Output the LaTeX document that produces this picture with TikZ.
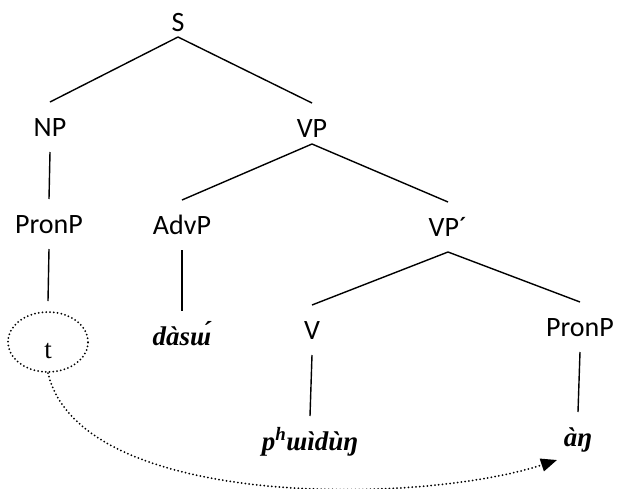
\documentclass[tikz,border=0pt]{standalone}
\usepackage{fontspec}
\setmainfont{Carlito}
\newfontfamily\wordfont{Liberation Serif}
\usetikzlibrary{arrows.meta,shapes.geometric}
\begin{document}
\begin{tikzpicture}[x=1pt,y=-1pt,
  lab/.style={font=\fontsize{28}{30}\selectfont, anchor=base, inner xsep=0pt, inner ysep=0pt,
              text height=18pt, text depth=0pt, outer ysep=16pt},
  word/.style={font=\wordfont\bfseries\itshape\fontsize{27}{30}\selectfont, anchor=base,
              inner xsep=0pt, inner ysep=0pt, text height=18pt, text depth=0pt, outer ysep=16pt},
  edge/.style={line width=1.4pt},
  dots/.style={line width=2pt, line cap=round, dash pattern=on 0pt off 3.8pt}]
\useasboundingbox (0,0) rectangle (619,488);
% labels
\node[lab] (S) at (178,31) {S};
\node[lab] (NP) at (50,136) {NP};
\node[lab] (VP) at (312,137) {VP};
\node[lab] (PronPa) at (49,233) {PronP};
\node[lab] (AdvP) at (182,234) {AdvP};
\node[lab] (VPp) at (448,236) {VP´};
\node[lab] (V) at (312,339) {V};
\node[lab] (PronPb) at (580,336) {PronP};
% words
\node[word] (dasu) at (182,345) {dàsɯ́};
\node[word] (phu) at (310,450) {p\textsuperscript{h}ɯìdùŋ};
\node[word] (ang) at (578,446) {àŋ};
\node[ellipse, draw, dots, minimum width=80pt, minimum height=60pt, inner sep=0pt,
      text height=32pt, text depth=0pt, font=\wordfont\fontsize{27}{30}\selectfont]
      (t) at (48,342) {t};
\coordinate (arrend) at (557,460);
% edges
\draw[edge] ([yshift=10pt]S.south) -- (NP.north);
\draw[edge] ([yshift=10pt]S.south) -- (VP.north);
\draw[edge] (NP.south) -- (PronPa.north);
\draw[edge] ([yshift=9pt]VP.south) -- (AdvP.north);
\draw[edge] ([yshift=9pt]VP.south) -- (VPp.north);
\draw[edge] (PronPa.south) -- ([yshift=10pt]t.north);
\draw[edge] (AdvP.south) -- (dasu.north);
\draw[edge] (VPp.south) -- (V.north);
\draw[edge] (VPp.south) -- (PronPb.north);
\draw[edge] (V.south) -- (phu.north);
\draw[edge] (PronPb.south) -- (ang.north);
% movement arrow
\draw[dots, -{Triangle[length=16pt,width=13pt]}] (t.south) .. controls (80,510) and (420,505) .. (arrend);
\end{tikzpicture}
\end{document}
